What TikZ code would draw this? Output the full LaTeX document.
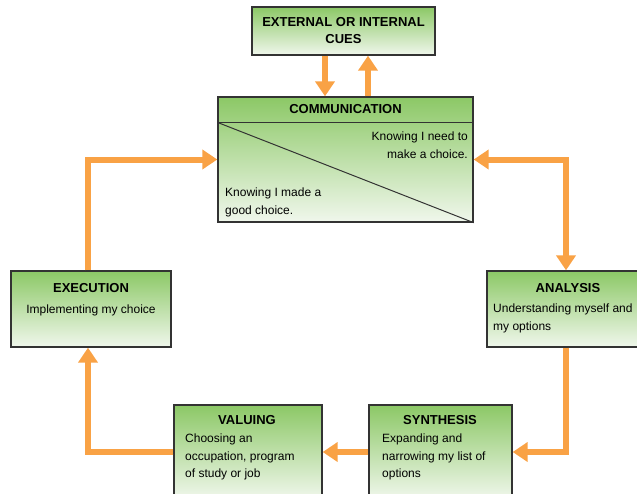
\documentclass[tikz,border=0pt]{standalone}
\usepackage{fontspec}
\setmainfont{Liberation Sans}
\usetikzlibrary{arrows.meta}
\definecolor{boxtop}{HTML}{8CC866}
\definecolor{boxbot}{HTML}{F0F7EC}
\definecolor{arrorange}{HTML}{F9A245}
\definecolor{boxline}{HTML}{333333}
\tikzset{
  box/.style={draw=boxline, line width=1.3pt, top color=boxtop, bottom color=boxbot, inner sep=0pt},
  head/.style={font=\fontsize{13}{17}\selectfont\bfseries, inner sep=0pt},
  body/.style={font=\fontsize{12}{17.5}\selectfont, inner sep=0pt},
  arr/.style={draw=arrorange, line width=6pt, -{Triangle[width=19pt,length=15pt]}},
  darr/.style={draw=arrorange, line width=6pt, {Triangle[width=19pt,length=15pt]}-{Triangle[width=19pt,length=15pt]}},
  thin/.style={draw=boxline, line width=1pt}
}
\begin{document}
\begin{tikzpicture}[x=1pt,y=-1pt]
\useasboundingbox (0,0) rectangle (637,493);
\clip (0,0) rectangle (637,493);
% boxes
\node[box, minimum width=183pt, minimum height=48pt] (cues) at (343.5,31) {};
\node[box, minimum width=255pt, minimum height=125pt] (comm) at (345.5,159.5) {};
\node[box, minimum width=160pt, minimum height=76pt] (exec) at (91,309) {};
\node[box, minimum width=158pt, minimum height=76pt] (anal) at (566,309) {};
\node[box, minimum width=148pt, minimum height=94pt] (valu) at (248,452) {};
\node[box, minimum width=143pt, minimum height=94pt] (synt) at (440.5,452) {};
% communication inner lines
\coordinate (cl) at ([yshift=-26pt]comm.north west);
\coordinate (cr) at ([yshift=-26pt]comm.north east);
\draw[thin] (cl) -- (cr);
\draw[thin] (cl) -- (comm.south east);
% texts
\node[head, align=center] (tcues) at (343.5,31) {EXTERNAL OR INTERNAL\\CUES};
\node[head] (tcomm) at (345.5,109) {COMMUNICATION};
\node[body, align=right, anchor=north east] (tneed) at (468,132) {Knowing I need to\\make a choice.};
\node[body, align=left, anchor=north west] (tmade) at (225,188) {Knowing I made a\\good choice.};
\node[head] (texec) at (91,288) {EXECUTION};
\node[body] (texecb) at (91,310) {Implementing my choice};
\node[head] (tanal) at (568,288) {ANALYSIS};
\node[body, align=left, anchor=north west] (tanalb) at (493,304) {Understanding myself and\\my options};
\node[head] (tvalu) at (247,420) {VALUING};
\node[body, align=left, anchor=north west] (tvalub) at (185,434) {Choosing an\\occupation, program\\of study or job};
\node[head] (tsynt) at (440,420) {SYNTHESIS};
\node[body, align=left, anchor=north west] (tsyntb) at (382,434) {Expanding and\\narrowing my list of\\options};
% arrows
\draw[arr] ([xshift=-18.5pt]cues.south) -- ([xshift=-18.5pt]cues.south |- comm.north);
\draw[arr] ([xshift=24.5pt]cues.south |- comm.north) -- ([xshift=24.5pt]cues.south);
\draw[darr] (comm.east) -| (anal.north);
\draw[arr] (anal.south) |- (synt.east);
\draw[arr] (synt.west) -- (valu.east);
\draw[arr] (valu.west) -| ([xshift=-3pt]exec.south);
\draw[arr] ([xshift=-3pt]exec.north) |- (comm.west);
\end{tikzpicture}
\end{document}
